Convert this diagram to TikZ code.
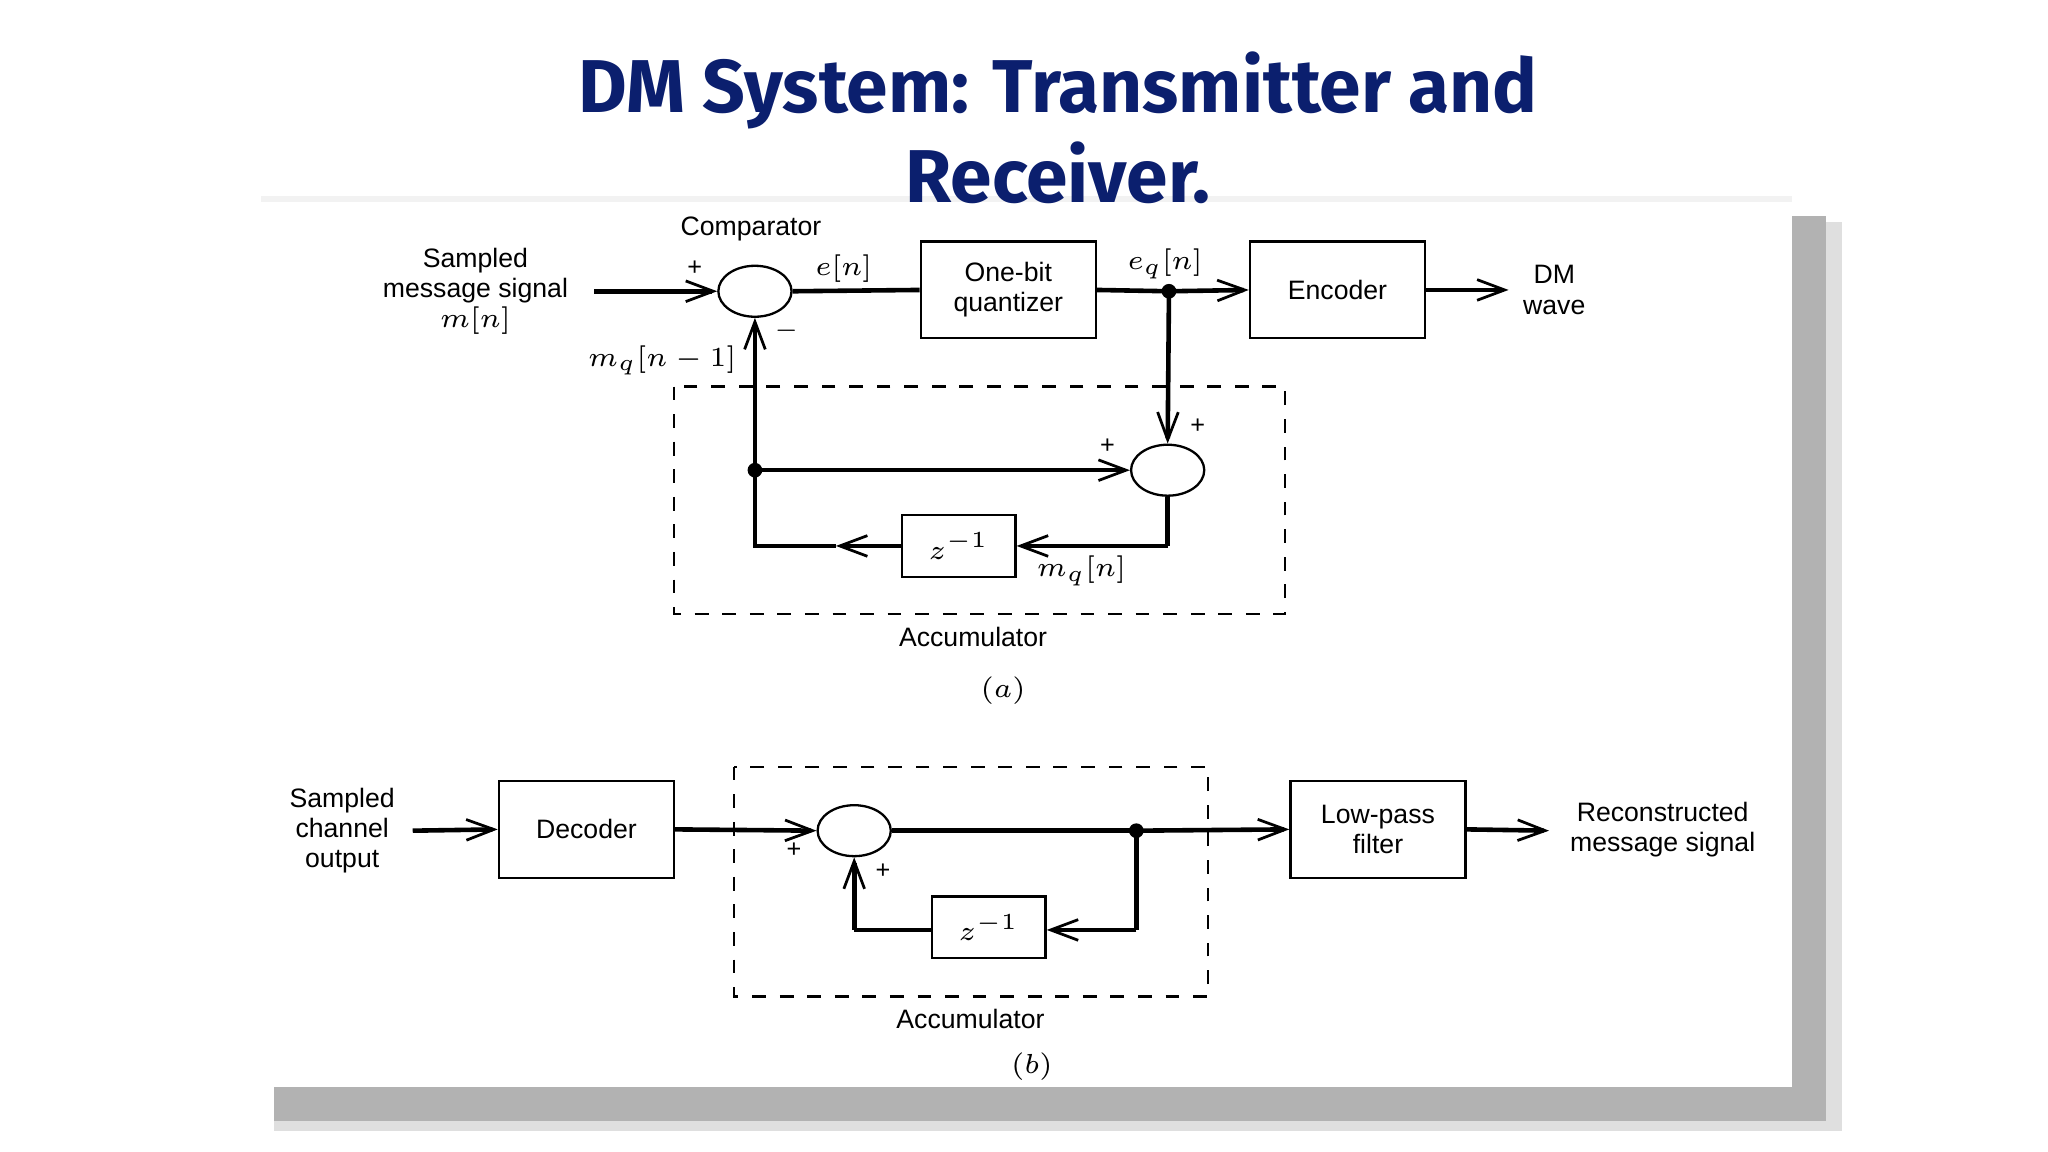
\documentclass[tikz,border=0pt]{standalone}
\usepackage{fontspec}
\setmainfont{Liberation Sans}
\newfontfamily\titlefont{Fira Sans}
\usetikzlibrary{arrows.meta,shapes.geometric}
\definecolor{navy}{HTML}{0B1F6E}
\begin{document}
\begin{tikzpicture}[x=0.01cm,y=-0.01cm,
  lbl/.style={font=\fontsize{5.8}{6.6}\selectfont,align=center,inner sep=0pt},
  blk/.style={draw,line width=0.5pt,minimum width=1.34cm,minimum height=0.74cm,inner sep=0pt,font=\fontsize{5.8}{6.6}\selectfont,align=center},
  zblk/.style={draw,line width=0.5pt,minimum width=0.87cm,minimum height=0.47cm,inner sep=0pt,font=\fontsize{5.8}{6.6}\selectfont},
  sum/.style={draw,ellipse,line width=0.5pt,minimum width=0.56cm,minimum height=0.39cm,inner sep=0pt},
  sig/.style={line width=1pt},
  arr/.style={line width=1pt,-{Straight Barb[length=6pt,width=4.5pt,line width=0.6pt]}},
  dot/.style={circle,fill,inner sep=0pt,minimum size=3.2pt},
  sm/.style={font=\fontsize{5.5}{6}\selectfont,inner sep=0pt},
  acc/.style={draw,dashed,line width=0.5pt}]
\useasboundingbox (0,0) rectangle (1568,882);
% panel with shadow
\fill[gray!25] (1378,170) rectangle (1410,866);
\fill[gray!25] (210,838) rectangle (1410,866);
\fill[gray!60] (1372,165) rectangle (1398,858);
\fill[gray!60] (210,832) rectangle (1398,858);
\fill[gray!10] (200,150) rectangle (1372,158);
\fill[white] (200,155) rectangle (1372,832);
% title
\node[font=\titlefont\bfseries\fontsize{16.3}{19.5}\selectfont,text=navy,align=center] (title) at (810,98) {DM System: Transmitter and\\Receiver.};
% ---------- (a)
\node[lbl] (msg) at (364,223) {Sampled\\message signal\\$m[n]$};
\node[sum] (cmp) at (578,223) {};
\node[lbl] (cmplbl) at (575,175) {Comparator};
\node[blk] (q) at (772,222) {One-bit\\quantizer};
\node[blk] (enc) at (1024,222) {Encoder};
\node[lbl] (dm) at (1190,222) {DM\\wave};
\node[sum] (add) at (894,360) {};
\node[zblk] (z1) at (734,418) {$z^{-1}$};
\coordinate (in1) at (455,223);
\coordinate (d1) at (895,223);
\coordinate (d2) at (578,360);
\coordinate (c1) at (894,418);
\coordinate (c2) at (578,418);
\coordinate (m1) at (640,418);
\coordinate (out1) at (1155,222);
\draw[arr] (in1) -- (cmp.west);
\draw[sig] (cmp.east) -- (q.west);
\draw[sig] (q.east) -- (d1);
\draw[arr] (d1) -- (enc.west);
\draw[arr] (enc.east) -- (out1);
\draw[arr] (d1) -- (add.north);
\draw[sig] (add.south) -- (c1);
\draw[arr] (c1) -- (z1.east);
\draw[arr] (z1.west) -- (m1);
\draw[sig] (m1) -- (c2) -- (d2);
\draw[arr] (d2) -- (cmp.south);
\draw[arr] (d2) -- (add.west);
\node[dot] (dd1) at (d1) {};
\node[dot] (dd2) at (d2) {};
\draw[acc] (516,296) rectangle (984,470);
\node[sm] (p1) at (532,205) {+};
\node[sm] (mi1) at (602,253) {$-$};
\node[sm] (p2) at (917,326) {+};
\node[sm] (p3) at (848,342) {+};
\node[lbl] (en) at (646,206) {$e[n]$};
\node[lbl] (eqn) at (892,202) {$e_q[n]$};
\node[lbl] (mq1) at (507,276) {$m_q[n-1]$};
\node[lbl] (mqn) at (828,437) {$m_q[n]$};
\node[lbl] (acc1) at (745,488) {Accumulator};
\node[lbl] (la) at (768,529) {$(a)$};
% ---------- (b)
\node[lbl] (sco) at (262,636) {Sampled\\channel\\output};
\node[blk] (dec) at (449,635) {Decoder};
\node[sum] (add2) at (654,636) {};
\node[zblk] (z2) at (757,710) {$z^{-1}$};
\node[blk] (lpf) at (1055,635) {Low-pass\\filter};
\node[lbl] (rec) at (1273,635) {Reconstructed\\message signal};
\coordinate (in2) at (316,636);
\coordinate (d3) at (870,636);
\coordinate (c3) at (870,712);
\coordinate (c4) at (654,712);
\coordinate (out2) at (1186,636);
\draw[arr] (in2) -- (dec.west);
\draw[arr] (dec.east) -- (add2.west);
\draw[sig] (add2.east) -- (d3);
\draw[arr] (d3) -- (lpf.west);
\draw[arr] (lpf.east) -- (out2);
\draw[sig] (d3) -- (c3);
\draw[arr] (c3) -- (z2.east |- c3);
\draw[sig] (z2.west |- c4) -- (c4);
\draw[arr] (c4) -- (add2.south);
\node[dot] (dd3) at (d3) {};
\draw[acc] (562,587) rectangle (925,763);
\node[sm] (p4) at (608,651) {+};
\node[sm] (p5) at (676,667) {+};
\node[lbl] (acc2) at (743,780) {Accumulator};
\node[lbl] (lb) at (790,817) {$(b)$};
\end{tikzpicture}
\end{document}
